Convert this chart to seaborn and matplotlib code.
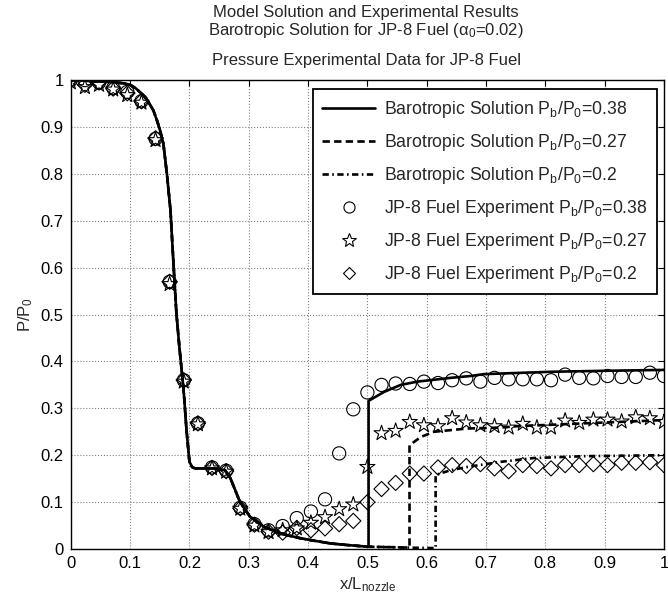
import numpy as np
import pandas as pd
import matplotlib
matplotlib.use("Agg")
import matplotlib.pyplot as plt
import seaborn as sns
from matplotlib.lines import Line2D

# ---------------- data ----------------
# shared upstream part of the barotropic solution
x_up = [0, 0.04, 0.07, 0.09, 0.1, 0.11, 0.122, 0.13, 0.139, 0.145, 0.15, 0.156, 0.162,
        0.168, 0.173, 0.178, 0.183, 0.188, 0.191, 0.195, 0.2, 0.205, 0.21, 0.24, 0.26,
        0.269, 0.285, 0.302, 0.325, 0.353, 0.387, 0.409, 0.4375, 0.466, 0.5]
y_up = [1.0, 0.998, 0.996, 0.993, 0.99, 0.982, 0.968, 0.955, 0.936, 0.915, 0.895, 0.865, 0.80,
        0.723, 0.61, 0.503, 0.431, 0.367, 0.325, 0.254, 0.186, 0.174, 0.172, 0.172, 0.168,
        0.151, 0.101, 0.069, 0.048, 0.033, 0.023, 0.018, 0.012, 0.0085, 0.005]

x_s38 = [0.502, 0.502, 0.528, 0.556, 0.584, 0.64, 0.674, 0.696, 0.809, 0.894, 1.0]
y_s38 = [0.005, 0.316, 0.335, 0.35, 0.357, 0.365, 0.369, 0.373, 0.378, 0.38, 0.382]

x_s27 = [0.54, 0.571, 0.571, 0.575, 0.59, 0.612, 0.652, 0.668, 0.725, 0.753, 0.865, 1.0]
y_s27 = [0.004, 0.003, 0.222, 0.225, 0.239, 0.25, 0.255, 0.257, 0.259, 0.262, 0.268, 0.275]

x_s20 = [0.57, 0.615, 0.615, 0.64, 0.668, 0.725, 0.78, 0.865, 1.0]
y_s20 = [0.003, 0.002, 0.158, 0.168, 0.175, 0.186, 0.194, 0.198, 0.2]

# experimental data, 43 taps
x_exp = [i / 42 for i in range(43)]
e38 = [1.0, 1.0, 0.995, 0.983, 0.975, 0.955, 0.875, 0.57, 0.36, 0.268, 0.174, 0.167, 0.088,
       0.053, 0.04, 0.049, 0.066, 0.08, 0.106, 0.204, 0.298, 0.334, 0.35, 0.353, 0.352,
       0.357, 0.354, 0.36, 0.364, 0.357, 0.365, 0.362, 0.362, 0.362, 0.36, 0.372, 0.365,
       0.364, 0.369, 0.367, 0.367, 0.376, 0.369]
e27 = [0.995, 0.985, 0.99, 0.98, 0.968, 0.952, 0.872, 0.565, 0.357, 0.266, 0.172, 0.165, 0.086,
       0.05, 0.036, 0.04, 0.044, 0.056, 0.068, 0.085, 0.095, 0.175, 0.247, 0.252, 0.271,
       0.264, 0.262, 0.279, 0.27, 0.264, 0.262, 0.259, 0.267, 0.259, 0.259, 0.274, 0.269,
       0.276, 0.276, 0.272, 0.281, 0.279, 0.271]
e20 = [1.0, 0.99, 0.995, 0.982, 0.972, 0.955, 0.876, 0.57, 0.36, 0.268, 0.173, 0.166, 0.087,
       0.052, 0.037, 0.035, 0.045, 0.04, 0.044, 0.053, 0.06, 0.1, 0.128, 0.141, 0.161,
       0.161, 0.174, 0.179, 0.177, 0.181, 0.172, 0.166, 0.179, 0.177, 0.172, 0.179, 0.179,
       0.181, 0.179, 0.184, 0.184, 0.185, 0.179]

sol_labels = [r"Barotropic Solution P$_\mathregular{b}$/P$_\mathregular{0}$=0.38",
              r"Barotropic Solution P$_\mathregular{b}$/P$_\mathregular{0}$=0.27",
              r"Barotropic Solution P$_\mathregular{b}$/P$_\mathregular{0}$=0.2"]
exp_labels = [r"JP-8 Fuel Experiment P$_\mathregular{b}$/P$_\mathregular{0}$=0.38",
              r"JP-8 Fuel Experiment P$_\mathregular{b}$/P$_\mathregular{0}$=0.27",
              r"JP-8 Fuel Experiment P$_\mathregular{b}$/P$_\mathregular{0}$=0.2"]
xticks = [0, 0.1, 0.2, 0.3, 0.4, 0.5, 0.6, 0.7, 0.8, 0.9, 1]
xticklabels = ["0", "0.1", "0.2", "0.3", "0.4", "0.5", "0.6", "0.7", "0.8", "0.9", "1"]
yticks = [0, 0.1, 0.2, 0.3, 0.4, 0.5, 0.6, 0.7, 0.8, 0.9, 1]
yticklabels = ["0", "0.1", "0.2", "0.3", "0.4", "0.5", "0.6", "0.7", "0.8", "0.9", "1"]

# ---------------- style ----------------
sns.set_style("white")
plt.rcParams["font.family"] = ["Liberation Sans", "DejaVu Sans"]
plt.rcParams["mathtext.fontset"] = "custom"
plt.rcParams["mathtext.rm"] = "Liberation Sans"
plt.rcParams["mathtext.it"] = "Liberation Sans:italic"

FS = 12

fig = plt.figure(figsize=(6.68, 6.07), dpi=100)
ax = fig.add_axes([0.106, 0.0955, 0.888, 0.7725])

DASH = (2.8, 1.6)
DASHDOT = (2.4, 1.3, 0.6, 1.3)
styles = [None, DASH, DASHDOT]
tails = [(x_s38, y_s38), (x_s27, y_s27), (x_s20, y_s20)]
for (tx, ty), dash in zip(tails, styles):
    df = pd.DataFrame({"x": x_up + tx, "y": y_up + ty})
    kw = dict(linestyle="-") if dash is None else dict(dashes=dash)
    sns.lineplot(data=df, x="x", y="y", ax=ax, color="black", lw=1.9,
                 estimator=None, sort=False, legend=False, **kw)

markers = [("o", 90), ("*", 130), ("D", 60)]
for vals, (m, s) in zip([e38, e27, e20], markers):
    sns.scatterplot(x=x_exp, y=vals, ax=ax, marker=m, s=s, facecolors="none",
                    edgecolor="black", linewidth=0.8, legend=False, zorder=3)

ax.set_xlim(0, 1)
ax.set_ylim(0, 1)
ax.set_xticks(xticks)
ax.set_xticklabels(xticklabels)
ax.set_yticks(yticks)
ax.set_yticklabels(yticklabels)
ax.tick_params(direction="in", length=4, width=0.8, top=True, right=True,
               labelsize=FS, colors="black", pad=5)
ax.grid(True, linestyle=":", color="#808080", linewidth=0.8)
for sp in ax.spines.values():
    sp.set_visible(True)
    sp.set_color("black")
    sp.set_linewidth(1.0)

ax.set_xlabel(r"x/L$_\mathregular{nozzle}$", fontsize=FS, labelpad=3)
ax.set_ylabel(r"P/P$_\mathregular{0}$", fontsize=FS, labelpad=4)

fig.text(0.548, 0.979, "Model Solution and Experimental Results", ha="center", va="center", fontsize=FS)
fig.text(0.548, 0.950, r"Barotropic Solution for JP-8 Fuel (α$_\mathregular{0}$=0.02)",
         ha="center", va="center", fontsize=FS)
fig.text(0.548, 0.901, "Pressure Experimental Data for JP-8 Fuel", ha="center", va="center", fontsize=FS)

handles = [Line2D([], [], color="black", lw=1.9, linestyle="-"),
           Line2D([], [], color="black", lw=1.9, dashes=DASH),
           Line2D([], [], color="black", lw=1.9, dashes=DASHDOT),
           Line2D([], [], color="black", marker="o", ls="none", mfc="none", ms=8, mew=0.8),
           Line2D([], [], color="black", marker="*", ls="none", mfc="none", ms=10, mew=0.8),
           Line2D([], [], color="black", marker="D", ls="none", mfc="none", ms=6.5, mew=0.8)]
leg = ax.legend(handles, sol_labels + exp_labels, loc="upper right",
                bbox_to_anchor=(0.988, 0.981), borderaxespad=0, fontsize=12.7,
                frameon=True, fancybox=False, framealpha=1, edgecolor="black",
                handlelength=3.0, labelspacing=0.68, borderpad=0.55, handletextpad=0.47)
leg.get_frame().set_linewidth(1.3)

fig.savefig("out.png", dpi=100)
